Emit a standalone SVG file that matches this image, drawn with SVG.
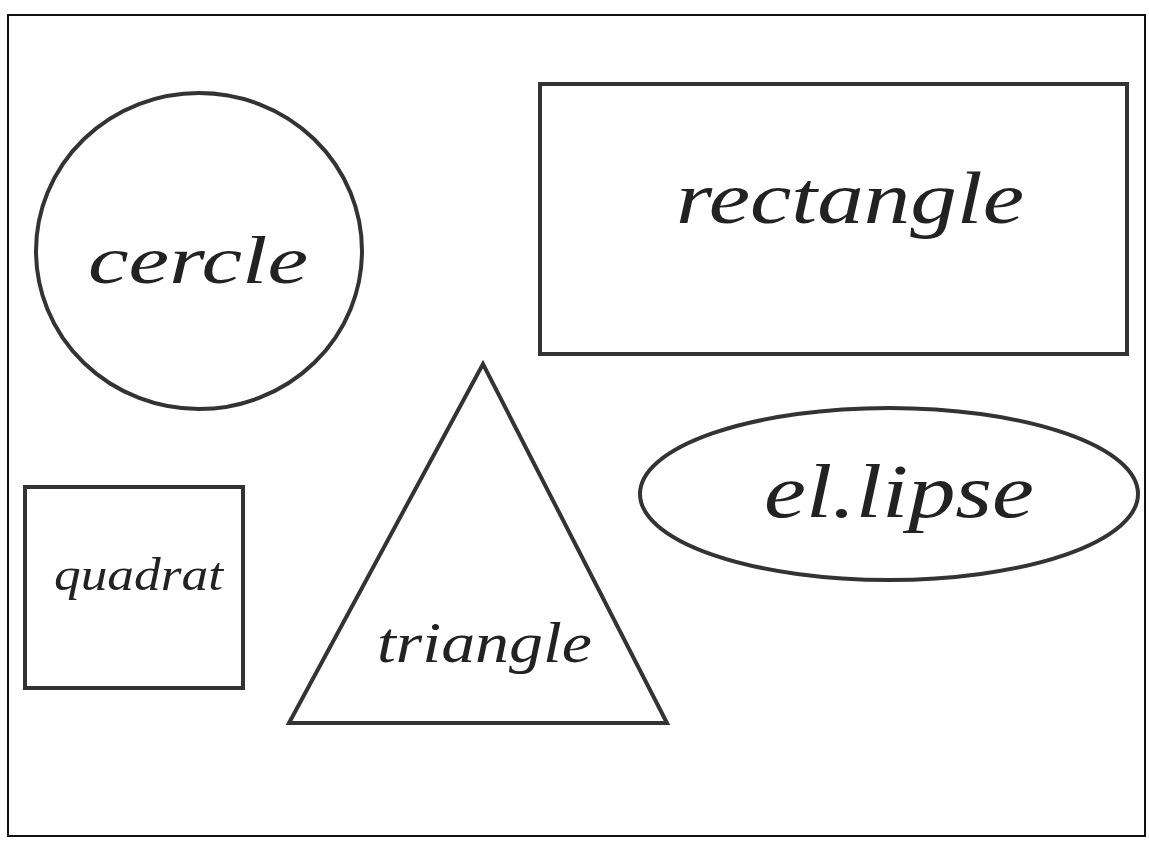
<svg xmlns="http://www.w3.org/2000/svg" width="1149" height="842" viewBox="0 0 1149 842">
<style>
.shape{fill:none;stroke:#333;stroke-width:4;stroke-linejoin:miter}
.lbl{font-family:"Liberation Serif","DejaVu Serif",serif;font-style:italic;fill:#222}
</style>
<rect x="0" y="0" width="1149" height="842" fill="#fff"/>
<rect x="8" y="15" width="1137" height="821" fill="none" stroke="#111" stroke-width="2"/>
<g id="cercle">
<ellipse class="shape" cx="199" cy="251" rx="163" ry="158"/>
<text class="lbl" x="88" y="283" font-size="68" textLength="220" lengthAdjust="spacingAndGlyphs">cercle</text>
</g>
<g id="rectangle">
<rect class="shape" x="540" y="84" width="587" height="270"/>
<text class="lbl" x="676" y="223" font-size="74" textLength="348" lengthAdjust="spacingAndGlyphs">rectangle</text>
</g>
<g id="ellipse">
<ellipse class="shape" cx="889" cy="494" rx="249" ry="86"/>
<text class="lbl" x="764" y="517" font-size="76" textLength="270" lengthAdjust="spacingAndGlyphs">el.lipse</text>
</g>
<g id="quadrat">
<rect class="shape" x="25" y="487" width="218" height="201"/>
<text class="lbl" x="54" y="590" font-size="46" textLength="169" lengthAdjust="spacingAndGlyphs">quadrat</text>
</g>
<g id="triangle">
<polygon class="shape" points="483,364 289,723 667,723"/>
<text class="lbl" x="377" y="662" font-size="58" textLength="215" lengthAdjust="spacingAndGlyphs">triangle</text>
</g>
<g id="connectors"></g>
</svg>
